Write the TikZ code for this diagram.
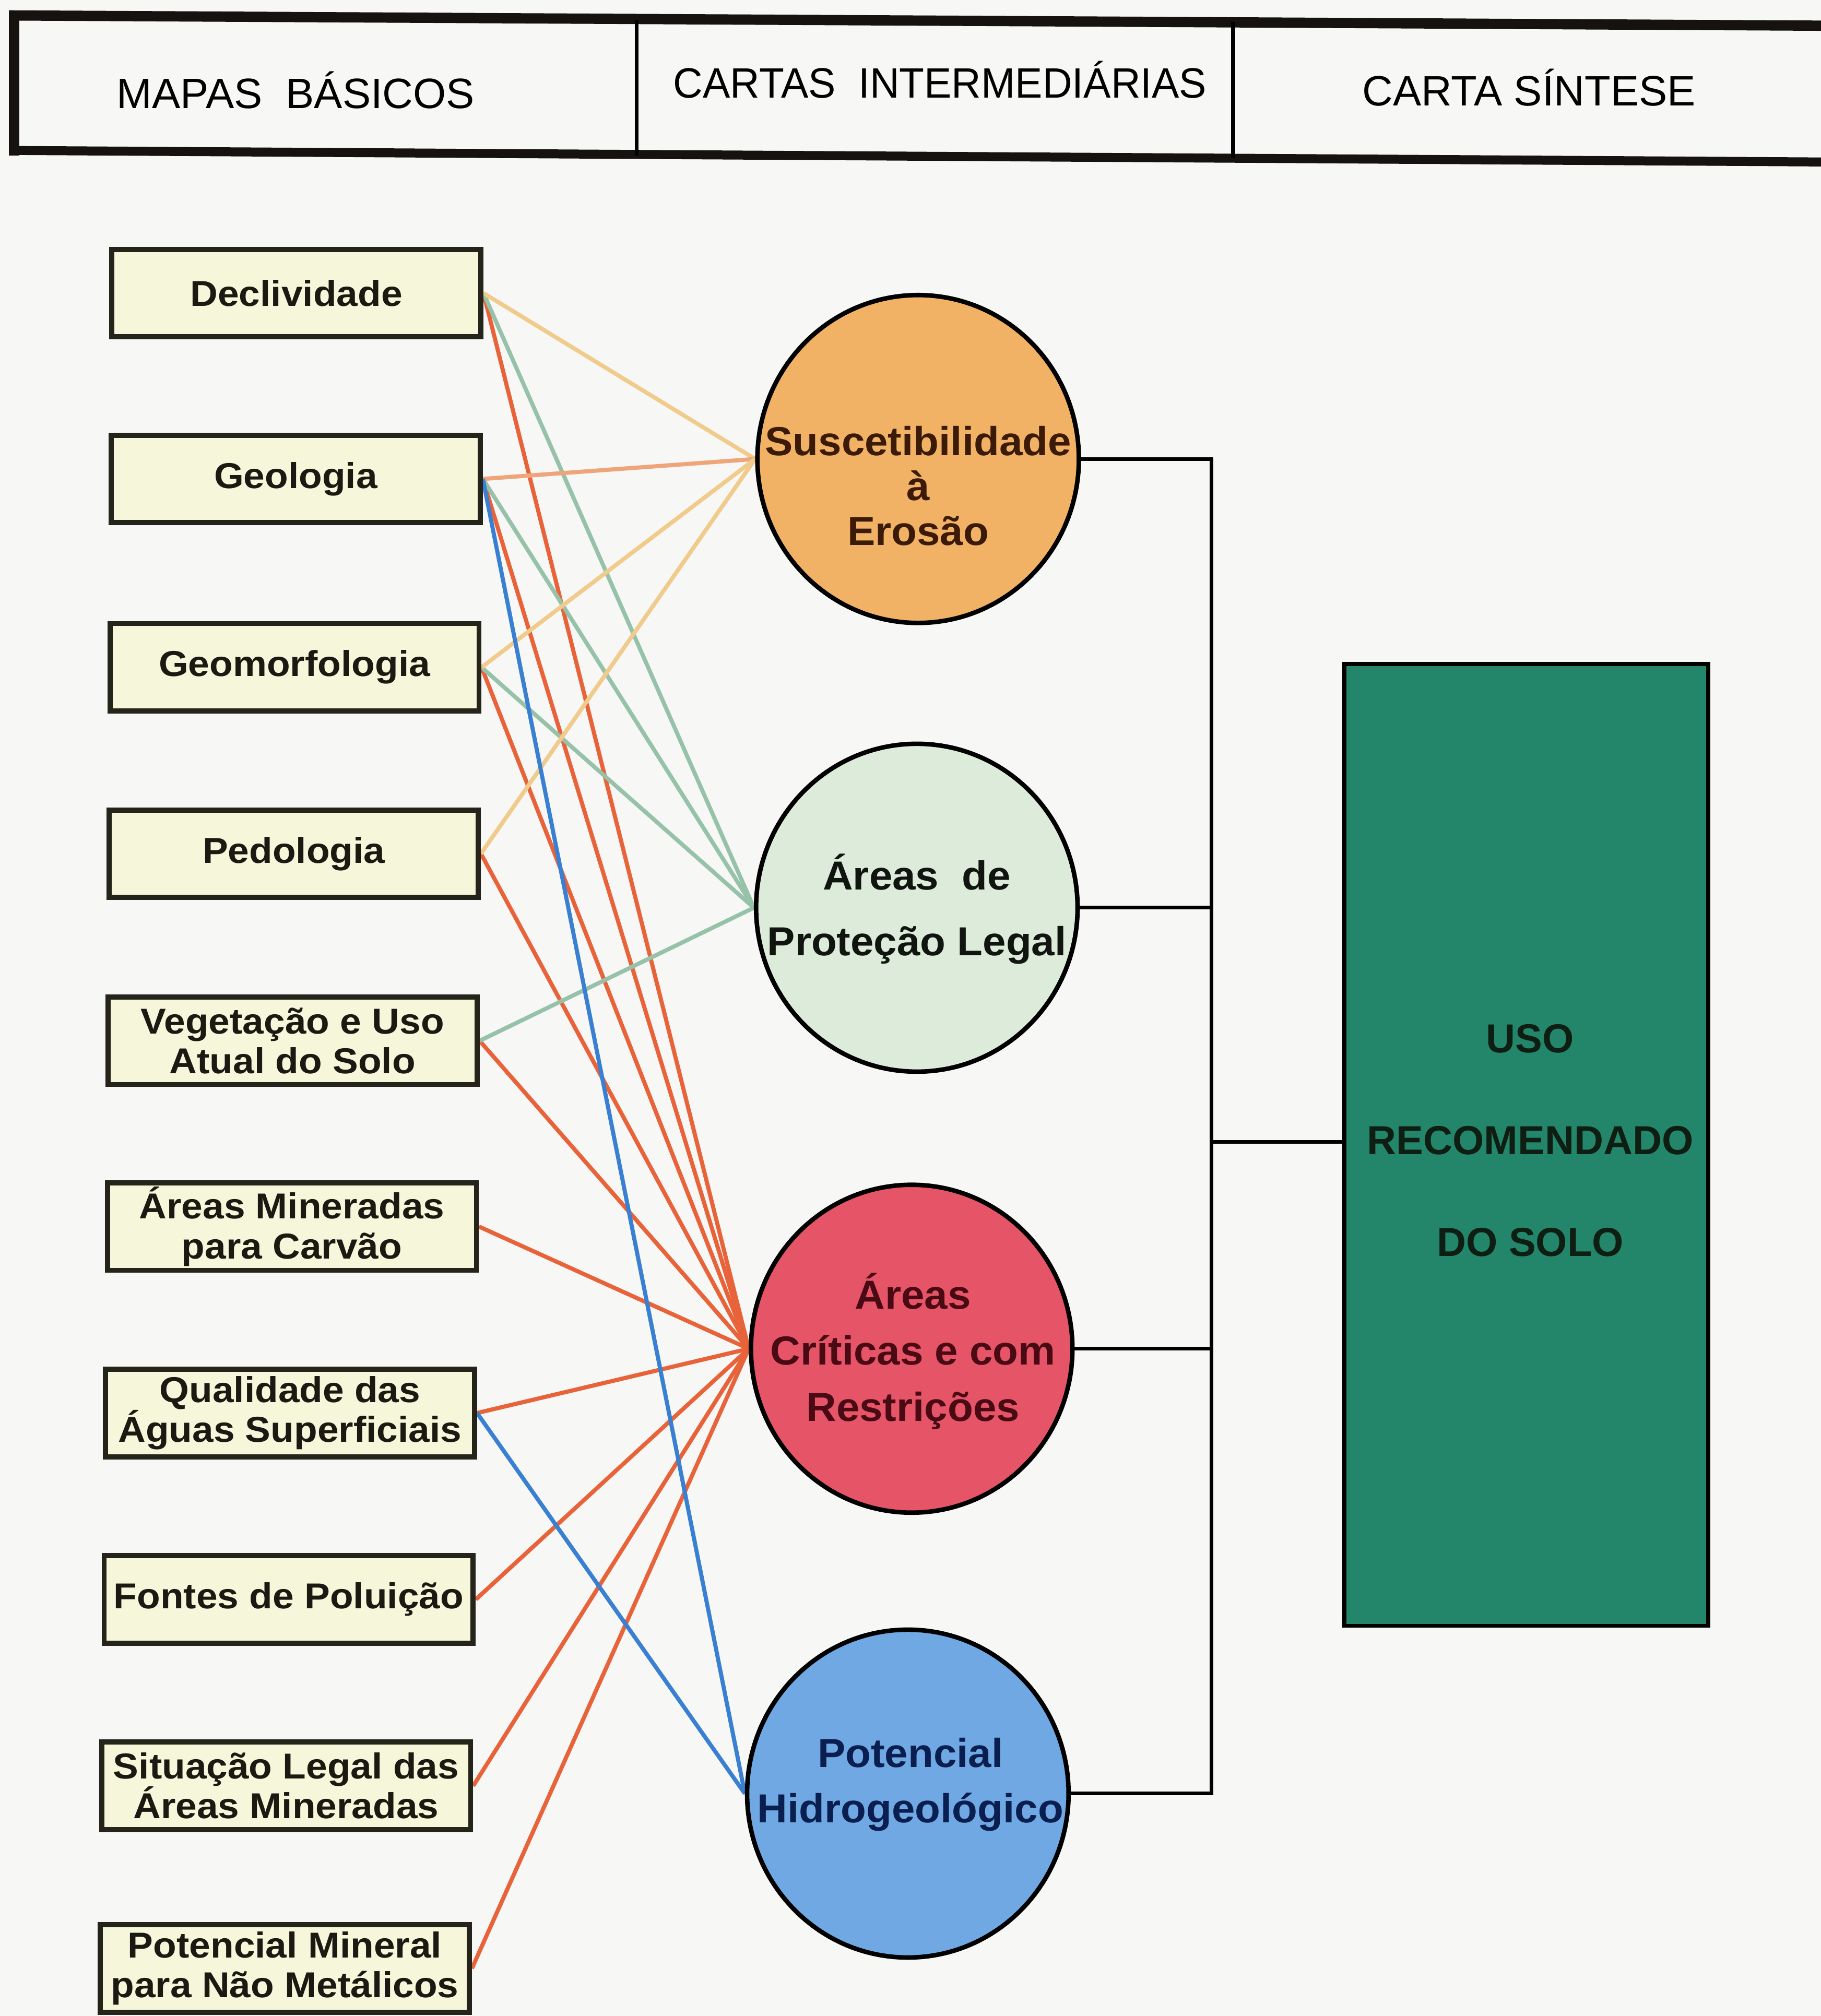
\documentclass[tikz,border=0pt]{standalone}
\usepackage{fontspec}
\setmainfont{Liberation Sans}
\newfontfamily\boxfont[FakeStretch=1.06]{Liberation Sans}
\newfontfamily\circfont[FakeStretch=1.03]{Liberation Sans}
\usetikzlibrary{shapes.geometric,backgrounds}
\definecolor{pagebg}{HTML}{F7F7F5}
\definecolor{boxfill}{HTML}{F6F6DA}
\definecolor{boxline}{HTML}{24241A}
\definecolor{boxtext}{HTML}{1A1A12}
\definecolor{hdrline}{HTML}{151210}
\definecolor{erosao}{HTML}{F2B265}
\definecolor{protecao}{HTML}{DDEBDA}
\definecolor{critica}{HTML}{E65468}
\definecolor{hidro}{HTML}{6FA8E2}
\definecolor{usogreen}{HTML}{23866A}
\definecolor{ltan}{HTML}{F0CB8C}
\definecolor{lsalmon}{HTML}{F0A47A}
\definecolor{lgreen}{HTML}{97C2AA}
\definecolor{lred}{HTML}{E8623A}
\definecolor{lblue}{HTML}{3A80D2}
\definecolor{terosao}{HTML}{3B1A08}
\definecolor{tprotecao}{HTML}{101510}
\definecolor{tcritica}{HTML}{4A0A14}
\definecolor{thidro}{HTML}{0B1E50}
\definecolor{tuso}{HTML}{0E1E12}
\tikzset{
  mapbox/.style={draw=boxline, fill=boxfill, line width=4pt, minimum width=287pt,
    minimum height=68pt, inner sep=0pt, align=center, text=boxtext,
    font=\boxfont\bfseries\fontsize{28}{31}\selectfont},
  circnode/.style={ellipse, draw=black, line width=3.5pt, minimum width=250pt,
    minimum height=255pt, inner sep=0pt},
  ctext/.style={align=center, inner sep=0pt},
  hdr/.style={inner sep=0pt, font=\fontsize{33}{36}\selectfont, text=black},
  conn/.style={line width=3.2pt},
  bracket/.style={line width=2.8pt, draw=black}
}
\begin{document}
\begin{tikzpicture}[x=1pt, y=-1pt]
\useasboundingbox (0,0) rectangle (1416,1568);

% header
\draw[line width=8pt, hdrline] (7,12) -- (1420,20);
\draw[line width=7pt, hdrline] (7,117) -- (1420,126);
\draw[line width=8pt, hdrline] (11,8) -- (11,121);
\draw[line width=3pt] (495,16) -- (495,121);
\draw[line width=3pt] (959,17) -- (959,123);
\node[hdr] (h1) at (230,70) {MAPAS~~BÁSICOS};
\node[hdr] (h2) at (731,62) {\scalebox{0.965}[1]{CARTAS~~INTERMEDIÁRIAS}};
\node[hdr] (h3) at (1189,68) {CARTA SÍNTESE};

% basic maps
\node[mapbox] (b1) at (230.5,228) {Declividade};
\node[mapbox] (b2) at (230,372.5) {Geologia};
\node[mapbox] (b3) at (229,519) {Geomorfologia};
\node[mapbox] (b4) at (228.5,664) {Pedologia};
\node[mapbox] (b5) at (227.5,809.5) {Vegetação e Uso\\Atual do Solo};
\node[mapbox] (b6) at (227,954) {Áreas Mineradas\\para Carvão};
\node[mapbox] (b7) at (225.5,1099) {Qualidade das\\Águas Superficiais};
\node[mapbox] (b8) at (224.5,1244) {Fontes de Poluição};
\node[mapbox] (b9) at (222.5,1389) {Situação Legal das\\Áreas Mineradas};
\node[mapbox] (b10) at (221.5,1531) {Potencial Mineral\\para Não Metálicos};

% intermediate charts
\node[circnode, fill=erosao] (c1) at (714,357) {};
\node[circnode, fill=protecao] (c2) at (713,706) {};
\node[circnode, fill=critica] (c3) at (709,1049) {};
\node[circnode, fill=hidro] (c4) at (706,1395) {};
\node[ctext, text=terosao, font=\circfont\bfseries\fontsize{31.5}{35}\selectfont] (t1) at (714,378) {Suscetibilidade\\à\\Erosão};
\node[ctext, text=tprotecao, font=\circfont\bfseries\fontsize{31.5}{51}\selectfont] (t2) at (713,707) {Áreas~~de\\Proteção Legal};
\node[ctext, text=tcritica, font=\circfont\bfseries\fontsize{31.5}{43.5}\selectfont] (t3) at (710,1051) {Áreas\\Críticas e com\\Restrições};
\node[ctext, text=thidro, font=\circfont\bfseries\fontsize{31.5}{43}\selectfont] (t4) at (708,1388) {Potencial\\Hidrogeológico};

% synthesis chart
\node[draw=black, line width=3pt, fill=usogreen, minimum width=283pt, minimum height=748pt, inner sep=0pt] (uso) at (1187,890.5) {};
\node[ctext, text=tuso, font=\bfseries\fontsize{31.5}{79}\selectfont] (usotxt) at (1190,887) {USO\\RECOMENDADO\\DO SOLO};

% bracket
\coordinate (v1) at (942,357);
\coordinate (v4) at (942,1395);
\coordinate (j) at (942,888);
\draw[bracket] (c1.east) -- (v1) -- (v4) -- (c4.east);
\draw[bracket] (c2.east) -- (c2.east -| v1);
\draw[bracket] (c3.east) -- (c3.east -| v1);
\draw[bracket] (j) -- (j -| uso.west);

% connectors
\begin{scope}[on background layer]
\fill[pagebg] (0,0) rectangle (1416,1568);
\draw[conn, lred] (b1.east) -- (c3.west);
\draw[conn, lred] (b2.east) -- (c3.west);
\draw[conn, lred] (b3.east) -- (c3.west);
\draw[conn, lred] (b4.east) -- (c3.west);
\draw[conn, lred] (b5.east) -- (c3.west);
\draw[conn, lred] (b6.east) -- (c3.west);
\draw[conn, lred] (b7.east) -- (c3.west);
\draw[conn, lred] (b8.east) -- (c3.west);
\draw[conn, lred] (b9.east) -- (c3.west);
\draw[conn, lred] (b10.east) -- (c3.west);
\draw[conn, lgreen] (b1.east) -- (c2.west);
\draw[conn, lgreen] (b2.east) -- (c2.west);
\draw[conn, lgreen] (b3.east) -- (c2.west);
\draw[conn, lgreen] (b5.east) -- (c2.west);
\draw[conn, ltan] (b1.east) -- (c1.west);
\draw[conn, lsalmon] (b2.east) -- (c1.west);
\draw[conn, ltan] (b3.east) -- (c1.west);
\draw[conn, ltan] (b4.east) -- (c1.west);
\draw[conn, lblue] (b2.east) -- (c4.west);
\draw[conn, lblue] (b7.east) -- (c4.west);
\end{scope}
\end{tikzpicture}
\end{document}
